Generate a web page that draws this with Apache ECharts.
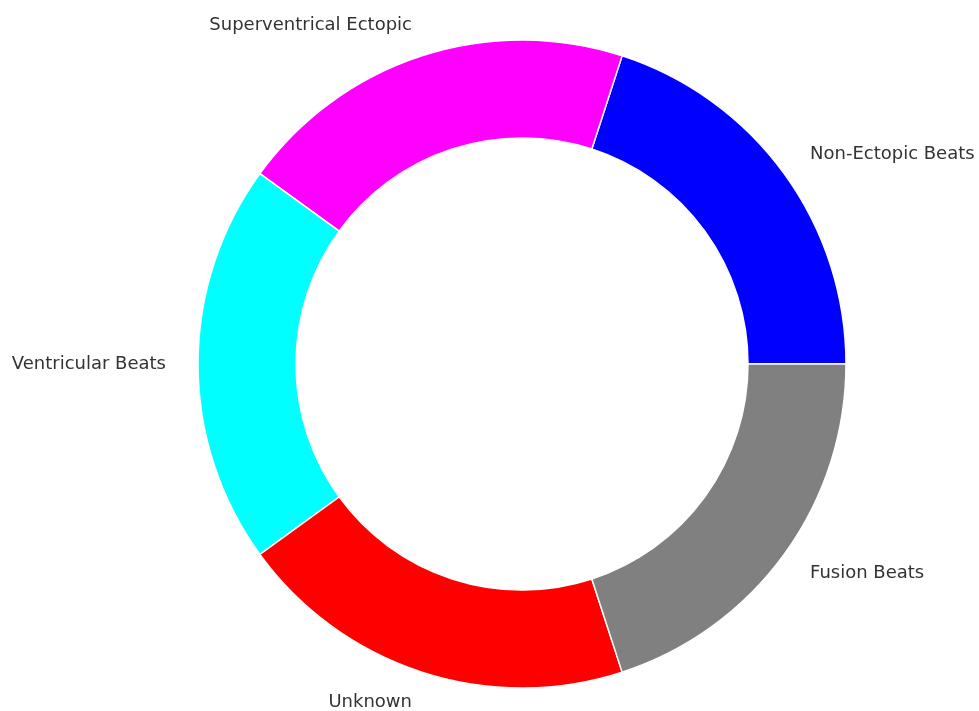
<!DOCTYPE html>
<html>
<head>
<meta charset="utf-8">
<script src="https://cdn.jsdelivr.net/npm/echarts@6/dist/echarts.min.js"></script>
<style>
  html, body { margin: 0; padding: 0; background: #fff; }
  #chart { width: 979px; height: 711px; }
</style>
</head>
<body>
<div id="chart"></div>
<script>
// Heartbeat classes and their shares of the ring
const categories = ['Non-Ectopic Beats', 'Superventrical Ectopic', 'Ventricular Beats', 'Unknown', 'Fusion Beats'];
const shares = [20, 20, 20, 20, 20];
const colors = ['#0000ff', '#ff00ff', '#00ffff', '#ff0000', '#808080'];

const chart = echarts.init(document.getElementById('chart'), null, { renderer: 'canvas' });

chart.setOption({
  backgroundColor: '#ffffff',
  animation: false,
  series: [{
    type: 'pie',
    center: [522, 364],
    radius: [226, 324],
    startAngle: 0,
    clockwise: false,
    avoidLabelOverlap: false,
    itemStyle: { borderColor: '#ffffff', borderWidth: 1.5 },
    label: {
      show: true,
      position: 'outside',
      distanceToLabelLine: 0,
      fontFamily: 'DejaVu Sans',
      fontSize: 18,
      color: '#333333'
    },
    labelLine: { show: false, length: 32, length2: 0 },
    emphasis: { disabled: true },
    data: categories.map((name, i) => ({
      name: name,
      value: shares[i],
      itemStyle: { color: colors[i] }
    }))
  }]
});
</script>
</body>
</html>
